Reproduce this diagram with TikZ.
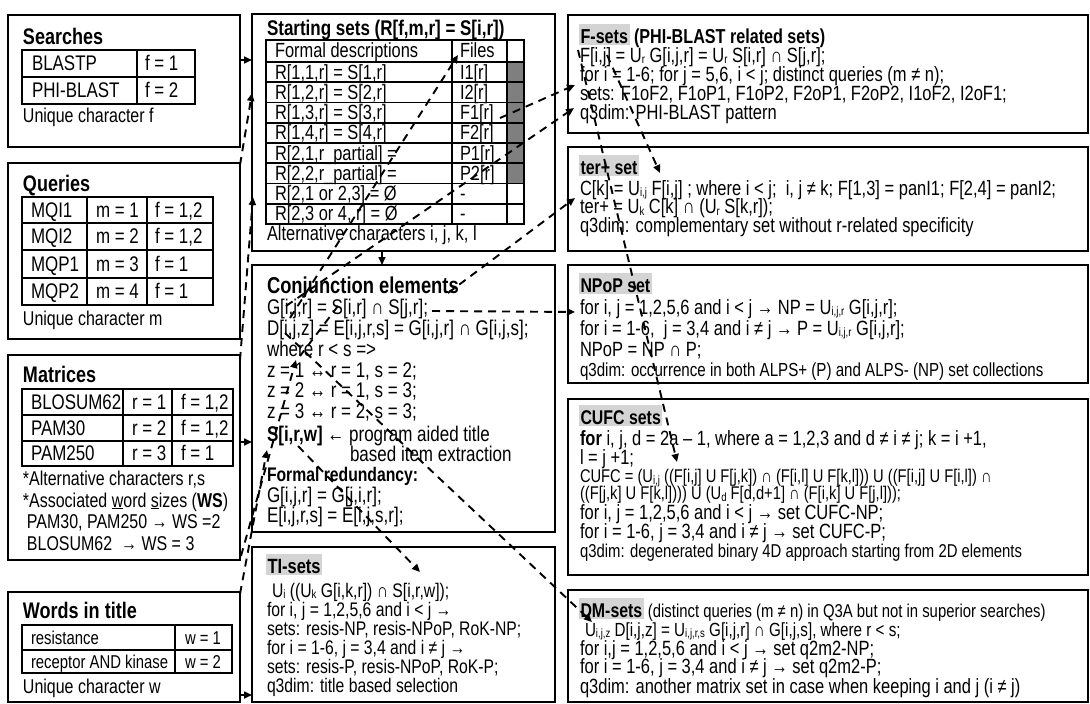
\documentclass[tikz,border=0pt]{standalone}
\usepackage{fontspec}
\setmainfont[FakeStretch=0.8]{Liberation Sans}
\usetikzlibrary{arrows.meta}
\newcommand\fs[1]{\fontsize{\fpeval{#1*1.0625}}{\fpeval{#1*1.0625}}\selectfont}
\newcommand\sbs[1]{\raisebox{-1.6pt}{\fontsize{12}{12}\selectfont #1}}
\definecolor{hl}{HTML}{D4D4D4}
\definecolor{cellg}{HTML}{7F7F7F}
\newcommand\bx[5]{\node[box,anchor=north west,minimum width={(#4-#2)*1pt},minimum height={(#5-#3)*1pt}] (#1) at (#2,#3) {};}
\begin{document}
\begin{tikzpicture}[x=1pt,y=-1pt,
  box/.style={draw,line width=2.2pt,inner sep=0pt,outer sep=0pt},
  tbl/.style={line width=1.6pt},
  txt/.style={anchor=base west,inner sep=0pt,outer sep=0pt},
  lbody/.style={txt,font=\fs{19.9}},
  ldesc/.style={txt,font=\fs{18.8}},
  wcell/.style={txt,font=\fs{17.5}},
  ltitle/.style={txt,font=\bfseries\fs{21.2}},
  sbody/.style={txt,font=\fs{19.3}},
  stitle/.style={txt,font=\bfseries\fs{20}},
  cbody/.style={txt,font=\fs{20}},
  ctitle/.style={txt,font=\bfseries\fs{21.6}},
  tbody/.style={txt,font=\fs{18.5}},
  rbody/.style={txt,font=\fs{19.4}},
  rtitle/.style={txt,font=\bfseries\fs{18.7}},
  hlt/.style={fill=hl,inner xsep=1.5pt,text height=19.5pt,text depth=2pt},
  dl/.style={line width=1.9pt,dash pattern=on 8pt off 6pt},
  dla/.style={dl,-{Triangle[length=8pt,width=7pt]}},
  sa/.style={line width=1.6pt,-{Triangle[length=8pt,width=7pt]}}
]
\fill[white] (0,0) rectangle (1090,704);
\useasboundingbox (0,0) rectangle (1090,704);

% ---------------- left column
\bx{searches}{8}{15}{240}{147}
\node[ltitle] (searchesT) at (23,44) {Searches};
\draw[tbl] (22,50) rectangle (195,104) (22,77) -- (195,77) (137,50) -- (137,104);
\node[lbody] (se1) at (32,70.5) {BLASTP};
\node[lbody] (se2) at (145,70.5) {f = 1};
\node[lbody] (se3) at (32,97.5) {PHI-BLAST};
\node[lbody] (se4) at (145,97.5) {f = 2};
\node[ldesc] (se5) at (23,122) {Unique character f};

\bx{queries}{8}{163}{240}{339}
\node[ltitle] (queriesT) at (23,191) {Queries};
\draw[tbl] (22,197) rectangle (213,305) (22,223) -- (213,223) (22,250) -- (213,250) (22,278) -- (213,278) (87,197) -- (87,305) (147,197) -- (147,305);
\node[lbody] (q1a) at (31,217) {MQI1};
\node[lbody] (q1b) at (96,217) {m = 1};
\node[lbody] (q1c) at (155,217) {f = 1,2};
\node[lbody] (q2a) at (31,243.5) {MQI2};
\node[lbody] (q2b) at (96,243.5) {m = 2};
\node[lbody] (q2c) at (155,243.5) {f = 1,2};
\node[lbody] (q3a) at (31,271) {MQP1};
\node[lbody] (q3b) at (96,271) {m = 3};
\node[lbody] (q3c) at (155,271) {f = 1};
\node[lbody] (q4a) at (31,298.5) {MQP2};
\node[lbody] (q4b) at (96,298.5) {m = 4};
\node[lbody] (q4c) at (155,298.5) {f = 1};
\node[ldesc] (q5) at (23,325) {Unique character m};

\bx{matrices}{8}{355}{240}{560}
\node[ltitle] (matricesT) at (23,382) {Matrices};
\draw[tbl] (22,389) rectangle (233,466) (22,415) -- (233,415) (22,441) -- (233,441) (123,389) -- (123,466) (172,389) -- (172,466);
\node[lbody] (m1a) at (31,409) {BLOSUM62};
\node[lbody] (m1b) at (132,409) {r = 1};
\node[lbody] (m1c) at (181,409) {f = 1,2};
\node[lbody] (m2a) at (31,435) {PAM30};
\node[lbody] (m2b) at (132,435) {r = 2};
\node[lbody] (m2c) at (181,435) {f = 1,2};
\node[lbody] (m3a) at (31,460) {PAM250};
\node[lbody] (m3b) at (132,460) {r = 3};
\node[lbody] (m3c) at (181,460) {f = 1};
\node[ldesc] (m4) at (23,485) {*Alternative characters r,s};
\node[ldesc] (m5) at (23,507) {*Associated \underline{w}ord \underline{s}izes (\textbf{WS})};
\node[ldesc] (m6) at (27,528) {PAM30, PAM250 → WS =2};
\node[ldesc] (m7) at (27,550) {BLOSUM62 \ → WS = 3};

\bx{words}{8}{592}{240}{702}
\node[ltitle] (wordsT) at (23,618) {Words in title};
\draw[tbl] (22,625) rectangle (232,673) (22,650) -- (232,650) (175,625) -- (175,673);
\node[wcell] (w1a) at (31,644) {resistance};
\node[wcell] (w1b) at (185,644) {w = 1};
\node[wcell] (w2a) at (31,668) {receptor AND kinase};
\node[wcell] (w2b) at (185,668) {w = 2};
\node[ldesc] (w3) at (23,693) {Unique character w};

% ---------------- middle column
\bx{starting}{252}{14}{555}{251}
\node[stitle] (startT) at (267,35) {Starting sets (R[f,m,r] = S[i,r])};
\fill[cellg] (507,62) rectangle (524,183.5);
\foreach \yy in {62,82.25,102.5,122.75,143,163.25,183.5,203.75} \draw[tbl] (266,\yy) -- (524,\yy);
\draw[tbl] (266,40) rectangle (524,224) (452,40) -- (452,224) (507,40) -- (507,224);
\node[sbody] (st0a) at (275,57.9) {Formal descriptions};
\node[sbody] (st0b) at (460,57.9) {Files};
\node[sbody] (st1a) at (275,79) {R[1,1,r] = S[1,r]};
\node[sbody] (st1b) at (460,79) {I1[r]};
\node[sbody] (st2a) at (275,99.3) {R[1,2,r] = S[2,r]};
\node[sbody] (st2b) at (460,99.3) {I2[r]};
\node[sbody] (st3a) at (275,119.5) {R[1,3,r] = S[3,r]};
\node[sbody] (st3b) at (460,119.5) {F1[r]};
\node[sbody] (st4a) at (275,139.8) {R[1,4,r] = S[4,r]};
\node[sbody] (st4b) at (460,139.8) {F2[r]};
\node[sbody] (st5a) at (275,160) {R[2,1,r\_partial] =};
\node[sbody] (st5b) at (460,160) {P1[r]};
\node[sbody] (st6a) at (275,180.3) {R[2,2,r\_partial] =};
\node[sbody] (st6b) at (460,180.3) {P2[r]};
\node[sbody] (st7a) at (275,200.5) {R[2,1 or 2,3] = Ø};
\node[sbody] (st7b) at (460,200.5) {-};
\node[sbody] (st8a) at (275,220.8) {R[2,3 or 4, r] = Ø};
\node[sbody] (st8b) at (460,220.8) {-};
\node[sbody] (st9) at (267,240) {Alternative characters i, j, k, l};

\bx{conj}{252}{265}{555}{532}
\node[ctitle] (conjT) at (267,293) {Conjunction elements};
\node[cbody] (c1) at (267,314) {G[i,j,r] = S[i,r] ∩ S[j,r];};
\node[cbody] (c2) at (267,335) {D[i,j,z] = E[i,j,r,s] = G[i,j,r] ∩ G[i,j,s];};
\node[cbody] (c3) at (267,356) {where r < s =>};
\node[cbody] (c4) at (267,377) {z = 1 ↔ r = 1, s = 2;};
\node[cbody] (c5) at (267,397) {z = 2 ↔ r = 1, s = 3;};
\node[cbody] (c6) at (267,418) {z = 3 ↔ r = 2, s = 3;};
\node[cbody] (c7) at (267,441) {\textbf{S[i,r,w]} ← program aided title};
\node[cbody] (c8) at (350,461) {based item extraction};
\node[txt,font=\bfseries\fs{18.5}] (c9) at (267,481) {Formal redundancy:};
\node[cbody] (c10) at (267,502) {G[i,j,r] = G[j,i,r];};
\node[cbody] (c11) at (267,522) {E[i,j,r,s] = E[i,j,s,r];};

\bx{ti}{252}{547}{555}{702}
\node[txt,hlt,font=\bfseries\fs{19.4}] (tiT) at (266,573) {TI-sets};
\node[tbody] (t1) at (272,597) {U\sbs{i} ((U\sbs{k} G[i,k,r]) ∩ S[i,r,w]);};
\node[tbody] (t2) at (267,616) {for i, j = 1,2,5,6 and i < j →};
\node[tbody] (t3) at (267,635) {sets: resis-NP, resis-NPoP, RoK-NP;};
\node[tbody] (t4) at (267,654) {for i = 1-6, j = 3,4 and i ≠ j →};
\node[tbody] (t5) at (267,673) {sets: resis-P, resis-NPoP, RoK-P;};
\node[tbody] (t6) at (267,692) {q3dim: title based selection};

% ---------------- right column
\bx{fsets}{568}{15}{1088}{133}
\node[txt,hlt,font=\bfseries\fs{19}] (fsT) at (579,43) {F-sets};
\node[txt,font=\bfseries\fs{19}] (fsT2) at (fsT.base east) {\ (PHI-BLAST related sets)};
\node[rbody] (f1) at (580,62) {F[i,j] = U\sbs{r} G[i,j,r] = U\sbs{r} S[i,r] ∩ S[j,r];};
\node[rbody] (f2) at (580,81) {for i = 1-6; for j = 5,6, i < j; distinct queries (m ≠ n);};
\node[rbody] (f3) at (580,100) {sets: F1oF2, F1oP1, F1oP2, F2oP1, F2oP2, I1oF2, I2oF1;};
\node[rbody] (f4) at (580,119) {q3dim: PHI-BLAST pattern};

\bx{terp}{568}{147}{1088}{251}
\node[txt,hlt,font=\bfseries\fs{18.7}] (tpT) at (579,174) {ter+ set};
\node[rbody] (tp1) at (580,195) {C[k] = U\sbs{i,j} F[i,j] ; where i < j; \ i, j ≠ k; F[1,3] = panI1; F[2,4] = panI2;};
\node[rbody] (tp2) at (580,213.5) {ter+ = U\sbs{k} C[k] ∩ (U\sbs{r} S[k,r]);};
\node[rbody] (tp3) at (580,232) {q3dim: complementary set without r-related specificity};

\bx{npop}{568}{265}{1088}{383}
\node[txt,hlt,font=\bfseries\fs{18.7}] (npT) at (579,292) {NPoP set};
\node[rbody] (np1) at (580,314) {for i, j = 1,2,5,6 and i < j → NP = U\sbs{i,j,r} G[i,j,r];};
\node[rbody] (np2) at (580,335) {for i = 1-6, \ j = 3,4 and i ≠ j → P = U\sbs{i,j,r} G[i,j,r];};
\node[rbody] (np3) at (580,356) {NPoP = NP ∩ P;};
\node[txt,font=\fs{17.8}] (np4) at (580,376) {q3dim: occurrence in both ALPS+ (P) and ALPS- (NP) set collections};

\bx{cufc}{568}{399}{1088}{575}
\node[txt,hlt,font=\bfseries\fs{18.7}] (cuT) at (579,424) {CUFC sets};
\node[rbody] (cu1) at (580,445) {\textbf{for} i, j, d = 2a – 1, where a = 1,2,3 and d ≠ i ≠ j; k = i +1,};
\node[rbody] (cu2) at (580,464.5) {l = j +1;};
\node[txt,font=\fs{17.3}] (cu3) at (580,482.5) {CUFC = (U\sbs{i,j} ((F[i,j] U F[j,k]) ∩ (F[i,l] U F[k,l])) U ((F[i,j] U F[i,l]) ∩};
\node[txt,font=\fs{17.3}] (cu4) at (580,499.5) {((F[j,k] U F[k,l]))) U (U\sbs{d} F[d,d+1] ∩ (F[i,k] U F[j,l]));};
\node[rbody] (cu5) at (580,519) {for i, j = 1,2,5,6 and i < j → set CUFC-NP;};
\node[rbody] (cu6) at (580,538) {for i = 1-6, j = 3,4 and i ≠ j → set CUFC-P;};
\node[txt,font=\fs{17.5}] (cu7) at (580,557.5) {q3dim: degenerated binary 4D approach starting from 2D elements};

\bx{dm}{568}{590}{1088}{702}
\node[txt,hlt,font=\bfseries\fs{18.7}] (dmT) at (579,617) {DM-sets};
\node[txt,font=\fs{17.5}] (dmT2) at (dmT.base east) {\ (distinct queries (m ≠ n) in Q3A but not in superior searches)};
\node[txt,font=\fs{17.9}] (dm1) at (585,636) {U\sbs{i,j,z} D[i,j,z] = U\sbs{i,j,r,s} G[i,j,r] ∩ G[i,j,s], where r < s;};
\node[rbody] (dm2) at (580,655) {for i,j = 1,2,5,6 and i < j → set q2m2-NP;};
\node[rbody] (dm3) at (580,673.5) {for i = 1-6, j = 3,4 and i ≠ j → set q2m2-P;};
\node[rbody] (dm4) at (580,693) {q3dim: another matrix set in case when keeping i and j (i ≠ j)};

% ---------------- solid arrows
\coordinate (sa1) at (240,60);  \coordinate (sa1e) at (252,60);
\coordinate (sa2) at (240,442); \coordinate (sa2e) at (252,442);
\coordinate (sa3) at (240,695); \coordinate (sa3e) at (252,695);
\coordinate (sa4) at (382,251); \coordinate (sa4e) at (382,265);
\draw[sa] (sa1) -- (sa1e);
\draw[sa] (sa2) -- (sa2e);
\draw[sa] (sa3) -- (sa3e);
\draw[sa] (sa4) -- (sa4e);

% ---------------- dashed connectors
\coordinate (dA1) at (240,360); \coordinate (dA2) at (253,197);
\coordinate (dB1) at (240,165); \coordinate (dB2) at (252,93);
\coordinate (dC1) at (240,594); \coordinate (dC2) at (267,450);
\coordinate (dD1) at (241,556); \coordinate (dD2) at (296,360);
\coordinate (dE1) at (290,318); \coordinate (dE2) at (458,55);
\coordinate (dF1) at (286,306); \coordinate (dF2) at (574,108);
\coordinate (dG1) at (500,118); \coordinate (dG2) at (575,85);
\coordinate (dH1) at (448,293); \coordinate (dH2) at (575,198);
\coordinate (dI1) at (432,311); \coordinate (dI2) at (575,312);
\coordinate (dJ1) at (298,446); \coordinate (dJ2) at (420,572);
\coordinate (dK1) at (285,333); \coordinate (dK2) at (592,622);
\coordinate (dL1) at (338,306); \coordinate (dL2) at (300,356);
\coordinate (dM1) at (578,50);  \coordinate (dM2) at (677,462);
\coordinate (dN1) at (607,55);  \coordinate (dN2) at (660,173);
\draw[dla] (dA1) -- (dA2);
\draw[dla] (dB1) -- (dB2);
\draw[dla] (dC1) -- (dC2);
\draw[dla] (dD1) -- (dD2);
\draw[dla] (dE1) -- (dE2);
\draw[dla] (dF1) -- (dF2);
\draw[dla] (dG1) -- (dG2);
\draw[dla] (dH1) -- (dH2);
\draw[dla] (dI1) -- (dI2);
\draw[dla] (dJ1) -- (dJ2);
\draw[dla] (dK1) -- (dK2);
\draw[dl] (dL1) -- (dL2);
\draw[dla] (dM1) -- (dM2);
\draw[dla] (dN1) -- (dN2);
\end{tikzpicture}
\end{document}
